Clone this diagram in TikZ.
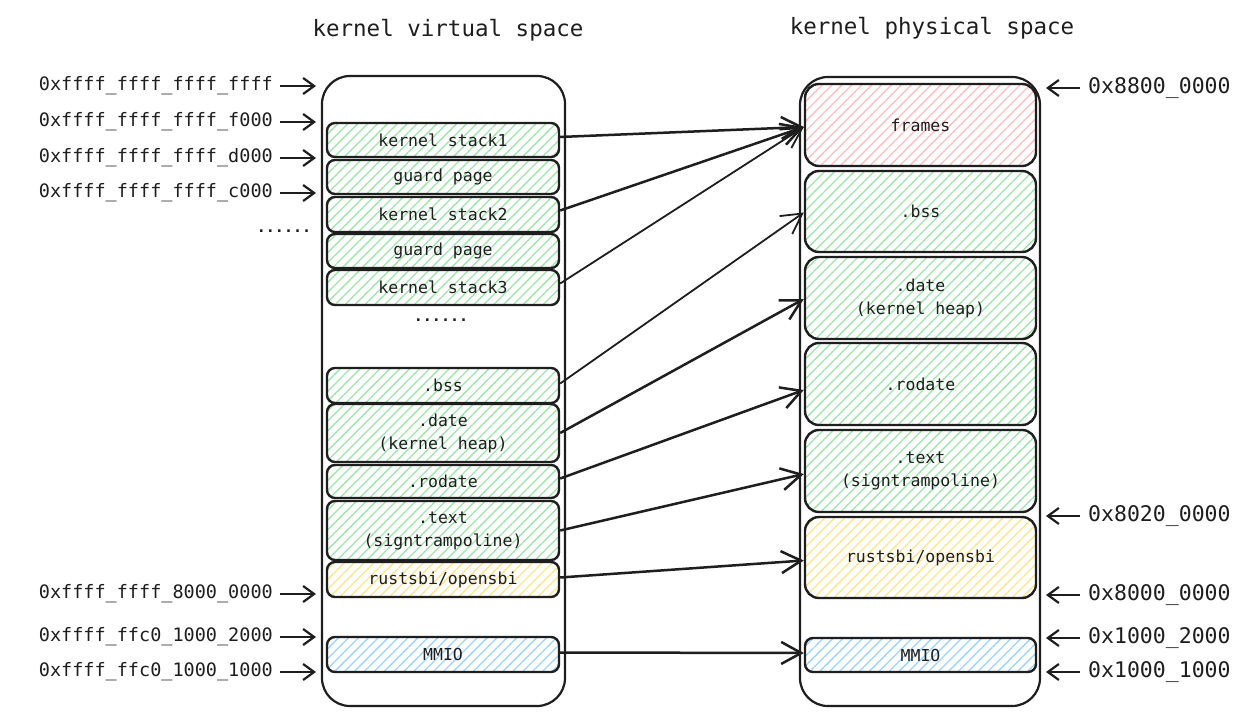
\documentclass[tikz,border=0pt]{standalone}
\usepackage{fontspec}
\setmainfont{DejaVu Sans Mono}
\usetikzlibrary{patterns.meta,arrows.meta}
\definecolor{ink}{HTML}{1E1E1E}
\definecolor{hgreen}{HTML}{9EE6AA}
\definecolor{hred}{HTML}{FFBDBD}
\definecolor{hyellow}{HTML}{FFE58A}
\definecolor{hblue}{HTML}{9CD3FF}
\newcommand{\boxfont}{\fontsize{16.5bp}{23bp}\selectfont}
\newcommand{\titlefont}{\fontsize{22.5bp}{26bp}\selectfont}
\newcommand{\laddrfont}{\fontsize{18.5bp}{22bp}\selectfont}
\newcommand{\raddrfont}{\fontsize{21.5bp}{24bp}\selectfont}
\newcommand{\dotsfont}{\fontsize{15bp}{16bp}\bfseries\selectfont}
\tikzset{
  seg/.style={draw=ink, line width=2.4bp, rounded corners=8bp, inner sep=0pt,
    align=center, font=\boxfont, text=ink},
  lseg/.style={seg, minimum width=232bp},
  rseg/.style={seg, minimum width=231bp, rounded corners=14bp},
  green/.style={pattern={Lines[angle=45,distance=7bp,line width=1.3bp]}, pattern color=hgreen},
  red/.style={pattern={Lines[angle=45,distance=7bp,line width=1.3bp]}, pattern color=hred},
  yellow/.style={pattern={Lines[angle=45,distance=7bp,line width=1.3bp]}, pattern color=hyellow},
  blue/.style={pattern={Lines[angle=45,distance=7bp,line width=1.3bp]}, pattern color=hblue},
  container/.style={draw=ink, line width=2.2bp, rounded corners=28bp, inner sep=0pt},
  mapping/.style={draw=ink, line width=2.5bp, -{Straight Barb[length=20bp,width=22bp]}},
  addrarrow/.style={draw=ink, line width=2.2bp, -{Straight Barb[length=11bp,width=16bp]}},
  laddr/.style={anchor=east, font=\laddrfont, text=ink, inner sep=0pt},
  raddr/.style={anchor=west, font=\raddrfont, text=ink, inner sep=0pt},
  title/.style={font=\titlefont, text=ink},
  dotsnode/.style={font=\dotsfont, text=ink},
}
\begin{document}
\begin{tikzpicture}[x=1bp,y=-1bp]
\useasboundingbox (0,0) rectangle (1252,719);
\fill[white] (0,0) rectangle (1252,719);

% titles
\node[title] (tl) at (448,30) {kernel virtual space};
\node[title] (tr) at (932,28) {kernel physical space};

% containers
\node[container, minimum width=243bp, minimum height=630bp] (lcont) at (443.5,391) {};
\node[container, minimum width=240bp, minimum height=629bp] (rcont) at (920,391.5) {};

% left segments
\node[lseg, green, minimum height=34bp] (ks1) at (443,140) {kernel stack1};
\node[lseg, green, minimum height=34bp] (gp1) at (443,177) {guard page};
\node[lseg, green, minimum height=35bp] (ks2) at (443,214.5) {kernel stack2};
\node[lseg, green, minimum height=34bp] (gp2) at (443,251) {guard page};
\node[lseg, green, minimum height=35bp] (ks3) at (443,287.5) {kernel stack3};
\node[dotsnode] (ldots) at (441,320) {......};
\node[lseg, green, minimum height=35bp] (lbss) at (443,385.5) {.bss};
\node[lseg, green, minimum height=58bp] (ldata) at (443,433) {.date\\(kernel heap)};
\node[lseg, green, minimum height=33bp] (lro) at (443,481.5) {.rodate};
\node[lseg, green, minimum height=59bp] (ltext) at (443,530.5) {.text\\(signtrampoline)};
\node[lseg, yellow, minimum height=35bp] (lsbi) at (443,579.5) {rustsbi/opensbi};
\node[lseg, blue, minimum height=35bp] (lmmio) at (443,654.5) {MMIO};

% right segments
\node[rseg, red, minimum height=82bp] (frames) at (920.5,125) {frames};
\node[rseg, green, minimum height=81bp] (rbss) at (920.5,211.5) {.bss};
\node[rseg, green, minimum height=82bp] (rdata) at (920.5,298) {.date\\(kernel heap)};
\node[rseg, green, minimum height=82bp] (rro) at (920.5,384) {.rodate};
\node[rseg, green, minimum height=82bp] (rtext) at (920.5,471) {.text\\(signtrampoline)};
\node[rseg, yellow, minimum height=81bp] (rsbi) at (920.5,557.5) {rustsbi/opensbi};
\node[lseg, blue, minimum width=231bp, minimum height=34bp] (rmmio) at (920.5,655) {MMIO};

% left address labels
\node[laddr] (la1) at (273,86) {0xffff\_ffff\_ffff\_ffff};
\node[laddr] (la2) at (273,122) {0xffff\_ffff\_ffff\_f000};
\node[laddr] (la3) at (273,158) {0xffff\_ffff\_ffff\_d000};
\node[laddr] (la4) at (273,193) {0xffff\_ffff\_ffff\_c000};
\node[dotsnode] (adots) at (284,231) {......};
\node[laddr] (la5) at (273,594) {0xffff\_ffff\_8000\_0000};
\node[laddr] (la6) at (273,637) {0xffff\_ffc0\_1000\_2000};
\node[laddr] (la7) at (273,672) {0xffff\_ffc0\_1000\_1000};
\coordinate (la1e) at (316,86);
\coordinate (la2e) at (316,122);
\coordinate (la3e) at (316,158);
\coordinate (la4e) at (316,193);
\coordinate (la5e) at (316,594);
\coordinate (la6e) at (316,637);
\coordinate (la7e) at (316,672);
\foreach \n in {1,...,7}{
  \draw[addrarrow] ([xshift=7bp]la\n.east) -- (la\n e);
}

% right address labels
\node[raddr] (ra1) at (1088,88) {0x8800\_0000};
\node[raddr] (ra2) at (1088,516) {0x8020\_0000};
\node[raddr] (ra3) at (1088,595) {0x8000\_0000};
\node[raddr] (ra4) at (1088,638) {0x1000\_2000};
\node[raddr] (ra5) at (1088,672) {0x1000\_1000};
\coordinate (ra1e) at (1046,88);
\coordinate (ra2e) at (1046,516);
\coordinate (ra3e) at (1046,595);
\coordinate (ra4e) at (1046,638);
\coordinate (ra5e) at (1046,672);
\foreach \n in {1,...,5}{
  \draw[addrarrow] ([xshift=-8bp]ra\n.west) -- (ra\n e);
}

% mappings
\draw[mapping] ([yshift=3bp]ks1.east) -- ([yshift=-2bp]frames.west);
\draw[mapping] ([yshift=4bp]ks2.east) -- ([yshift=-2bp]frames.west);
\draw[mapping, line width=1.8bp] ([yshift=4bp]ks3.east) -- ([yshift=-2bp]frames.west);
\draw[mapping, line width=1.8bp] ([yshift=2bp]lbss.east) -- ([yshift=-1bp]rbss.west);
\draw[mapping] (ldata.east) -- ([yshift=-1bp]rdata.west);
\draw[mapping] ([yshift=3bp]lro.east) -- ([yshift=-6bp]rro.west);
\draw[mapping] (ltext.east) -- ([yshift=-3bp]rtext.west);
\draw[mapping] ([yshift=2bp]lsbi.east) -- ([yshift=-3bp]rsbi.west);
\draw[mapping] ([yshift=2bp]lmmio.east) -- ([yshift=2bp]rmmio.west);
\end{tikzpicture}
\end{document}
